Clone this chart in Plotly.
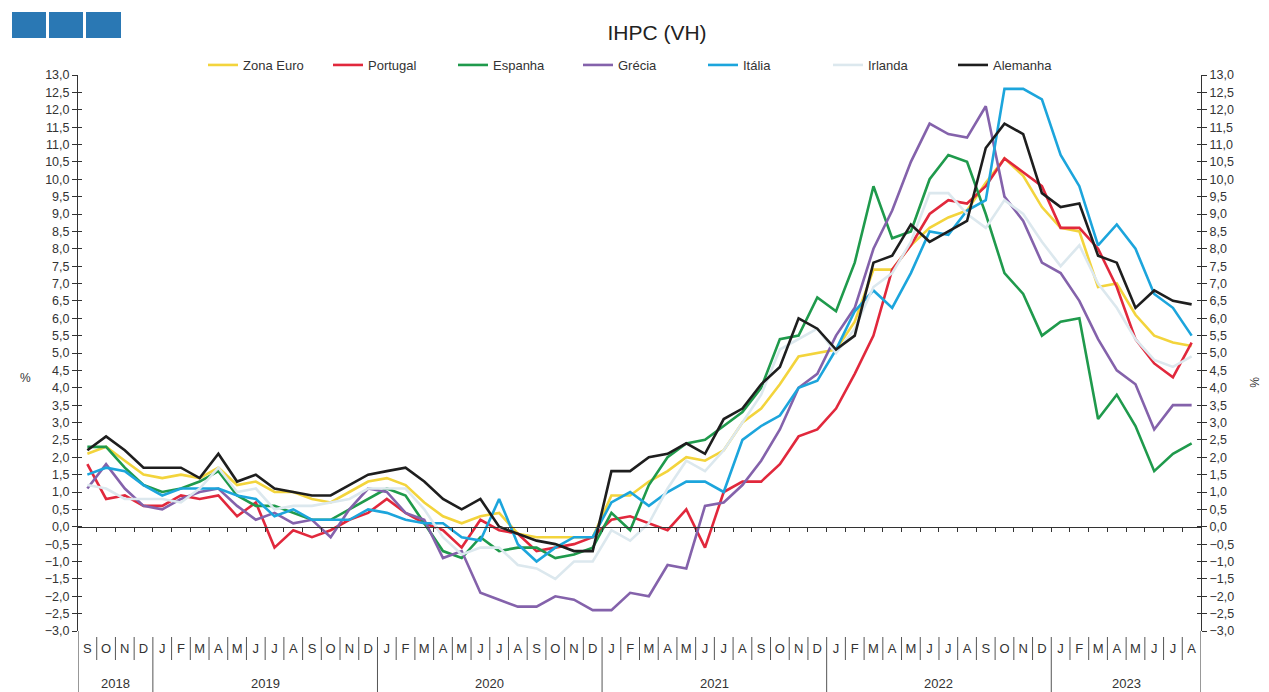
import plotly.graph_objects as go

# ---------------- data ----------------
month_labels = (["S", "O", "N", "D"]
                + ["J", "F", "M", "A", "M", "J", "J", "A", "S", "O", "N", "D"] * 4
                + ["J", "F", "M", "A", "M", "J", "J", "A"])
year_labels = ["2018", "2019", "2020", "2021", "2022", "2023"]
months_per_year = [4, 12, 12, 12, 12, 8]

zona_euro = [2.1, 2.3, 1.9, 1.5,
             1.4, 1.5, 1.4, 1.7, 1.2, 1.3, 1.0, 1.0, 0.8, 0.7, 1.0, 1.3,
             1.4, 1.2, 0.7, 0.3, 0.1, 0.3, 0.4, -0.2, -0.3, -0.3, -0.3, -0.3,
             0.9, 0.9, 1.3, 1.6, 2.0, 1.9, 2.2, 3.0, 3.4, 4.1, 4.9, 5.0,
             5.1, 5.9, 7.4, 7.4, 8.1, 8.6, 8.9, 9.1, 9.9, 10.6, 10.1, 9.2,
             8.6, 8.5, 6.9, 7.0, 6.1, 5.5, 5.3, 5.2]
portugal = [1.8, 0.8, 0.9, 0.6,
            0.6, 0.9, 0.8, 0.9, 0.3, 0.7, -0.6, -0.1, -0.3, -0.1, 0.2, 0.4,
            0.8, 0.4, 0.1, -0.1, -0.6, 0.2, -0.1, -0.2, -0.7, -0.6, -0.5, -0.3,
            0.2, 0.3, 0.1, -0.1, 0.5, -0.6, 1.0, 1.3, 1.3, 1.8, 2.6, 2.8,
            3.4, 4.4, 5.5, 7.4, 8.1, 9.0, 9.4, 9.3, 9.8, 10.6, 10.2, 9.8,
            8.6, 8.6, 8.0, 6.9, 5.4, 4.7, 4.3, 5.3]
espanha = [2.3, 2.3, 1.7, 1.2,
           1.0, 1.1, 1.3, 1.6, 0.9, 0.6, 0.6, 0.4, 0.2, 0.2, 0.5, 0.8,
           1.1, 0.9, 0.1, -0.7, -0.9, -0.3, -0.7, -0.6, -0.6, -0.9, -0.8, -0.6,
           0.4, -0.1, 1.2, 2.0, 2.4, 2.5, 2.9, 3.3, 4.0, 5.4, 5.5, 6.6,
           6.2, 7.6, 9.8, 8.3, 8.5, 10.0, 10.7, 10.5, 9.0, 7.3, 6.7, 5.5,
           5.9, 6.0, 3.1, 3.8, 2.9, 1.6, 2.1, 2.4]
grecia = [1.1, 1.8, 1.1, 0.6,
          0.5, 0.8, 1.0, 1.1, 0.6, 0.2, 0.4, 0.1, 0.2, -0.3, 0.5, 1.1,
          1.0, 0.4, 0.2, -0.9, -0.7, -1.9, -2.1, -2.3, -2.3, -2.0, -2.1, -2.4,
          -2.4, -1.9, -2.0, -1.1, -1.2, 0.6, 0.7, 1.2, 1.9, 2.8, 4.0, 4.4,
          5.5, 6.3, 8.0, 9.1, 10.5, 11.6, 11.3, 11.2, 12.1, 9.5, 8.8, 7.6,
          7.3, 6.5, 5.4, 4.5, 4.1, 2.8, 3.5, 3.5]
italia = [1.5, 1.7, 1.6, 1.2,
          0.9, 1.1, 1.1, 1.1, 0.9, 0.8, 0.3, 0.5, 0.2, 0.2, 0.2, 0.5,
          0.4, 0.2, 0.1, 0.1, -0.3, -0.4, 0.8, -0.5, -1.0, -0.6, -0.3, -0.3,
          0.7, 1.0, 0.6, 1.0, 1.3, 1.3, 1.0, 2.5, 2.9, 3.2, 4.0, 4.2,
          5.1, 6.2, 6.8, 6.3, 7.3, 8.5, 8.4, 9.1, 9.4, 12.6, 12.6, 12.3,
          10.7, 9.8, 8.1, 8.7, 8.0, 6.7, 6.3, 5.5]
irlanda = [1.2, 1.1, 0.8, 0.8,
           0.8, 0.7, 1.1, 1.7, 1.0, 1.1, 0.5, 0.6, 0.6, 0.7, 0.8, 1.1,
           1.1, 1.1, 0.5, -0.3, -0.8, -0.6, -0.6, -1.1, -1.2, -1.5, -1.0, -1.0,
           -0.1, -0.4, 0.1, 1.1, 1.9, 1.6, 2.2, 3.0, 3.8, 5.1, 5.4, 5.7,
           5.0, 5.7, 6.9, 7.3, 8.2, 9.6, 9.6, 9.0, 8.6, 9.4, 9.0, 8.2,
           7.5, 8.1, 7.0, 6.3, 5.4, 4.8, 4.6, 4.9]
alemanha = [2.2, 2.6, 2.2, 1.7,
            1.7, 1.7, 1.4, 2.1, 1.3, 1.5, 1.1, 1.0, 0.9, 0.9, 1.2, 1.5,
            1.6, 1.7, 1.3, 0.8, 0.5, 0.8, 0.0, -0.2, -0.4, -0.5, -0.7, -0.7,
            1.6, 1.6, 2.0, 2.1, 2.4, 2.1, 3.1, 3.4, 4.1, 4.6, 6.0, 5.7,
            5.1, 5.5, 7.6, 7.8, 8.7, 8.2, 8.5, 8.8, 10.9, 11.6, 11.3, 9.6,
            9.2, 9.3, 7.8, 7.6, 6.3, 6.8, 6.5, 6.4]

series_names = ["Zona Euro", "Portugal", "Espanha", "Grécia", "Itália", "Irlanda", "Alemanha"]
series_values = [zona_euro, portugal, espanha, grecia, italia, irlanda, alemanha]
series_colors = ["#f3d43c", "#e1283c", "#1f9a4c", "#8462ab", "#1ca5dc", "#dce8ee", "#1e1e1e"]

y_min, y_max = -3.0, 13.0

# ---------------- layout geometry ----------------
W, H = 1269, 692
L, R, T, B = 78, 68, 75, 61
PW, PH = W - L - R, H - T - B


def px_x(x):
    return (x - L) / PW


def px_y(y):
    return (H - B - y) / PH


x_idx = list(range(len(month_labels)))
x_lo, x_hi = -0.5, len(month_labels) - 0.5
font_family = "Liberation Sans, Arial, sans-serif"

fig = go.Figure()
for name, vals, col in zip(series_names, series_values, series_colors):
    fig.add_trace(go.Scatter(x=x_idx, y=vals, mode="lines", name=name,
                             line=dict(color=col, width=2.6)))

# helper (empty) traces so the overlay axes are drawn
fig.add_trace(go.Scatter(x=[], y=[], xaxis="x2", showlegend=False, hoverinfo="skip"))
fig.add_trace(go.Scatter(x=[], y=[], yaxis="y2", showlegend=False, hoverinfo="skip"))
fig.add_trace(go.Scatter(x=[], y=[], yaxis="y3", showlegend=False, hoverinfo="skip"))
fig.add_trace(go.Scatter(x=[], y=[], yaxis="y4", showlegend=False, hoverinfo="skip"))

boundaries = [i + 0.5 for i in x_idx[:-1]]
year_bounds = []
acc = 0
year_centers = []
for n in months_per_year:
    year_centers.append(acc + (n - 1) / 2)
    acc += n
    year_bounds.append(acc - 0.5)
year_bounds = year_bounds[:-1]

ytick_common = dict(range=[y_min, y_max], dtick=0.5, tick0=0, tickformat=".1f",
                    showgrid=False, zeroline=False, automargin=False)

fig.update_layout(
    template="none",
    width=W, height=H,
    margin=dict(l=L, r=R, t=T, b=B, pad=0, autoexpand=False),
    paper_bgcolor="white", plot_bgcolor="white",
    separators=",.",
    font=dict(family=font_family, color="#333333", size=12),
    title=dict(text="IHPC (VH)", x=657 / W, xref="container", xanchor="center",
               y=1 - 33 / H, yref="container", yanchor="middle", pad=dict(t=0, b=0),
               font=dict(size=21, color="#222222", family=font_family)),
    showlegend=True,
    legend=dict(orientation="h", x=px_x(203), xanchor="left", y=px_y(65), yanchor="middle",
                font=dict(size=13, color="#333333"), bgcolor="rgba(0,0,0,0)",
                itemwidth=30, entrywidth=80, entrywidthmode="pixels", tracegroupgap=0),
    xaxis=dict(range=[x_lo, x_hi], showgrid=False, zeroline=False, showline=False,
               automargin=False,
               tickmode="array", tickvals=x_idx, ticktext=month_labels, ticks="",
               tickfont=dict(size=13, color="#333333"), ticklabelstandoff=8),
    xaxis2=dict(range=[x_lo, x_hi], overlaying="x", anchor="free", automargin=False,
                position=(0 - y_min) / (y_max - y_min), showgrid=False, zeroline=False,
                showline=True, linecolor="#333333", linewidth=1,
                tickmode="array", tickvals=boundaries, ticks="outside", ticklen=4,
                tickcolor="#333333", showticklabels=False),
    yaxis=dict(**ytick_common, side="left", showline=True, linecolor="#333333", linewidth=1,
               ticks="outside", ticklen=5, tickcolor="#333333",
               tickfont=dict(size=12.5, color="#333333")),
    yaxis2=dict(**ytick_common, side="right", overlaying="y", anchor="x", showline=True,
                linecolor="#333333", linewidth=1, ticks="outside", ticklen=5,
                tickcolor="#333333", tickfont=dict(size=12.5, color="#333333")),
    yaxis3=dict(**ytick_common, side="left", overlaying="y", anchor="x", showline=False,
                ticks="inside", ticklen=4, tickcolor="#333333", showticklabels=False),
    yaxis4=dict(**ytick_common, side="right", overlaying="y", anchor="x", showline=False,
                ticks="inside", ticklen=4, tickcolor="#333333", showticklabels=False),
)

shapes = []
# month separators in the label band
for b in boundaries:
    long = b in year_bounds
    shapes.append(dict(type="line", xref="x", yref="paper", x0=b, x1=b,
                       y0=px_y(637), y1=px_y(692 if long else 660),
                       line=dict(color="#555555", width=1)))
# outer frame lines of the label band
for xb in (x_lo, x_hi):
    shapes.append(dict(type="line", xref="x", yref="paper", x0=xb, x1=xb,
                       y0=0, y1=px_y(692), line=dict(color="#333333", width=1)))
# decorative blue squares (top left)
for x0, x1 in ((12, 46), (49, 83), (86, 121)):
    shapes.append(dict(type="rect", xref="paper", yref="paper",
                       x0=px_x(x0), x1=px_x(x1), y0=px_y(38), y1=px_y(12),
                       fillcolor="#2a78b4", line=dict(width=0)))
fig.update_layout(shapes=shapes)

annotations = []
for yl, xc in zip(year_labels, year_centers):
    annotations.append(dict(text=yl, x=xc, xref="x", y=px_y(683), yref="paper",
                            showarrow=False, xanchor="center", yanchor="middle",
                            font=dict(size=13, color="#333333")))
annotations.append(dict(text="%", x=px_x(18), xref="paper", y=px_y(378), yref="paper",
                        showarrow=False, font=dict(size=12, color="#333333")))
annotations.append(dict(text="%", x=px_x(1263), xref="paper", y=px_y(382), yref="paper",
                        showarrow=False, textangle=90, font=dict(size=12, color="#333333")))
fig.update_layout(annotations=annotations)

fig.write_html("out.html", config={"displayModeBar": False},
               post_script="document.body.style.margin='0px';document.body.style.padding='0px';")
